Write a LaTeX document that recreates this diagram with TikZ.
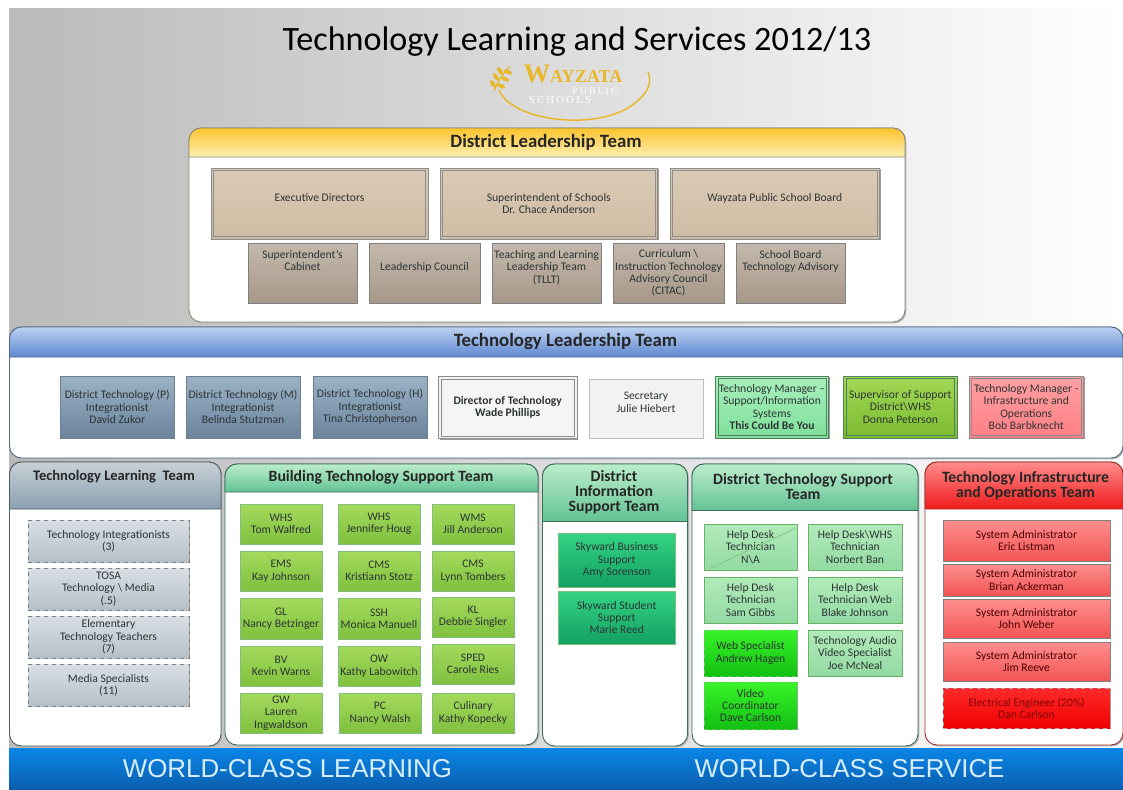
\documentclass[tikz,border=0pt]{standalone}
\usepackage{fontspec}
\setmainfont{Carlito}
\newfontfamily\arialf{Liberation Sans}
\newfontfamily\timesf{Liberation Serif}
\usetikzlibrary{shadows}
\definecolor{txt}{HTML}{2C3434}
\definecolor{tan1}{HTML}{DACAB5}\definecolor{tan2}{HTML}{CFBCA4}
\definecolor{taup1}{HTML}{C4B8AC}\definecolor{taup2}{HTML}{A69888}
\definecolor{slate1}{HTML}{9BB2C6}\definecolor{slate2}{HTML}{6B849C}\definecolor{slate3}{HTML}{6E8092}
\definecolor{mint1}{HTML}{A8EFBC}\definecolor{mint2}{HTML}{80E09A}
\definecolor{lime1}{HTML}{A2D856}\definecolor{lime2}{HTML}{7CBB30}
\definecolor{lime3}{HTML}{A4DA5C}\definecolor{lime4}{HTML}{7FC03E}
\definecolor{rose1}{HTML}{FFA0A2}\definecolor{rose2}{HTML}{FF7F84}
\definecolor{gd1}{HTML}{D8DEE4}\definecolor{gd2}{HTML}{B6C0CA}
\definecolor{sky1}{HTML}{34D484}\definecolor{sky2}{HTML}{12A062}
\definecolor{help1}{HTML}{B2EABA}\definecolor{help2}{HTML}{92DAA2}
\definecolor{bright1}{HTML}{38F428}\definecolor{bright2}{HTML}{12C012}
\definecolor{sys1}{HTML}{FF8E8E}\definecolor{sys2}{HTML}{F25454}
\definecolor{elec1}{HTML}{FF2A2A}\definecolor{elec2}{HTML}{F00000}
\definecolor{logogold}{HTML}{E8B82A}
\definecolor{bannertext}{HTML}{D6EEFF}
\definecolor{bluetop}{HTML}{0A86E8}\definecolor{bluebot}{HTML}{0A5FAE}
\definecolor{ytop}{HTML}{FBC42C}\definecolor{ybot}{HTML}{FFEFB4}\definecolor{yb}{HTML}{8C8C78}
\definecolor{btop}{HTML}{BDD2F2}\definecolor{bbot}{HTML}{5E88D0}\definecolor{bb}{HTML}{4F6A86}
\definecolor{gtop}{HTML}{C8D0D6}\definecolor{gbot}{HTML}{8AA0B0}\definecolor{gb}{HTML}{4F5F66}
\definecolor{ntop}{HTML}{BCEDCB}\definecolor{nbot}{HTML}{62C294}\definecolor{nb}{HTML}{3E6E5A}
\definecolor{rtop}{HTML}{FF8C8C}\definecolor{rbot}{HTML}{F01A1A}\definecolor{rb}{HTML}{A03030}
\definecolor{framegrey}{HTML}{8A8C8E}\definecolor{framegreen}{HTML}{4E8060}
\newcommand{\bx}[7]{%
  \pgfmathsetlengthmacro{\bw}{(#5-#3)*0.75}%
  \pgfmathsetlengthmacro{\bh}{(#6-#4)*0.75}%
  \node[#2,minimum width=\bw,minimum height=\bh] (#1) at ({(#3+#5)/2},{(#4+#6)/2}) {#7};}
% box with a second, inner frame: same arguments
\newcommand{\dbx}[7]{%
  \bx{#1}{#2}{#3}{#4}{#5}{#6}{#7}%
  \draw[frame,draw/.expanded=\framecol] ([shift={(2.4,2.4)}]#1.north west) rectangle ([shift={(-2.4,-2.4)}]#1.south east);}
\newcommand{\framecol}{framegrey}
% name, x0,y0,x1,y1(header bottom),y2(panel bottom), top colour, bottom colour, border
\newcommand{\panel}[9]{%
  \bx{#1}{panelbody,draw=#9}{#2}{#3}{#4}{#6}{}%
  \shade[top color=#7,bottom color=#8] (#2,#5) [rounded corners=9pt] -- (#2,#3) -- (#4,#3) [sharp corners] -- (#4,#5) -- cycle;
  \draw[draw=#9,line width=.7pt] (#2,#5) [rounded corners=9pt] -- (#2,#3) -- (#4,#3) [sharp corners] -- (#4,#5) -- cycle;}
\newcommand{\grain}[3]{\fill[logogold,rotate around={#3:(#1,#2)}] (#1,#2) ellipse (4.6 and 2);}
\tikzset{
  base/.style={rectangle,inner sep=0pt,outer sep=0pt,align=center,text=txt,
    font=\fontsize{8.7}{9.25}\selectfont,line width=.6pt,
    general shadow={fill=black!38,shadow xshift=1.1pt,shadow yshift=-1.1pt}},
  frame/.style={line width=.5pt},
  panelbody/.style={rectangle,inner sep=0pt,outer sep=0pt,rounded corners=9pt,fill=white,line width=.7pt,
    general shadow={fill=black!30,shadow xshift=1pt,shadow yshift=-1pt}},
  hd/.style={align=center,inner sep=0pt,text=black!85,font=\bfseries\fontsize{11.8}{11.25}\selectfont},
  hdb/.style={hd,font=\bfseries\fontsize{14.1}{15}\selectfont},
  bigbox/.style={base,draw=framegrey,top color=tan1,bottom color=tan2},
  smallbox/.style={base,draw=black!50,top color=taup1,bottom color=taup2},
  slatebox/.style={base,draw=slate3,top color=slate1,bottom color=slate2},
  dirbox/.style={base,draw=framegrey,fill=black!4,font=\bfseries\fontsize{8.7}{9.25}\selectfont},
  secbox/.style={base,draw=black!25,fill=black!5},
  mgrgreen/.style={base,draw=framegreen,top color=mint1,bottom color=mint2},
  supgreen/.style={base,draw=framegreen,top color=lime1,bottom color=lime2},
  mgrred/.style={base,draw=framegrey,top color=rose1,bottom color=rose2},
  greydash/.style={base,draw=black!50,dashed,top color=gd1,bottom color=gd2},
  limebox/.style={base,draw=black!50!green!50,top color=lime3,bottom color=lime4},
  skybox/.style={base,draw=black!50!green!50,top color=sky1,bottom color=sky2},
  helpbox/.style={base,draw=black!50!green!60,top color=help1,bottom color=help2},
  brightbox/.style={base,draw=black!35!green!60,dashed,top color=bright1,bottom color=bright2},
  sysbox/.style={base,draw=black!50,top color=sys1,bottom color=sys2,text=red!30!black},
  elecbox/.style={base,draw=black!35,dashed,top color=elec1,bottom color=elec2,text=red!50!black},
  banner/.style={inner sep=0pt,text=bannertext,font=\arialf\fontsize{19.4}{22}\selectfont},
}
\begin{document}
\begin{tikzpicture}[x=0.75pt,y=-0.75pt]
\useasboundingbox (0,0) rectangle (1123,789);
\fill[white] (0,0) rectangle (1123,789);
\shade[left color=black!27,right color=white] (9,8) rectangle (1123,748);
% title
\node[inner sep=0pt,text=black,font=\fontsize{25.6}{30}\selectfont] (title) at (577,42) {Technology Learning and Services 2012/13};
% logo (a drawing)
\draw[logogold,line width=1.1pt] (499,90) .. controls (512,122) and (600,132) .. (635,103) .. controls (649,92) and (652,82) .. (648,72);
\draw[logogold,line width=.9pt] (494,91) .. controls (497,82) and (503,74) .. (510,66);
\grain{493}{84}{-55}\grain{496}{77}{-55}\grain{500}{71}{-55}
\grain{501}{86}{-25}\grain{505}{79}{-25}\grain{508}{72}{-25}
\node[inner sep=0pt,text=logogold,font=\timesf\bfseries\fontsize{11}{12}\selectfont] (logow) at (573,74) {\fontsize{20}{20}\selectfont W\fontsize{13.6}{14}\selectfont AYZATA};
\node[inner sep=0pt,text=white,font=\timesf\fontsize{7.4}{8}\selectfont] (logop) at (595,91) {P\kern1.5pt U\kern1.5pt B\kern1.5pt L\kern1.5pt I\kern1.5pt C};
\node[inner sep=0pt,text=white,font=\timesf\fontsize{8}{9}\selectfont] (logos) at (560,100.5) {S\kern1.7pt C\kern1.7pt H\kern1.7pt O\kern1.7pt O\kern1.7pt L\kern1.7pt S};
% District Leadership Team
\panel{pdl}{189}{128}{905}{157}{322}{ytop}{ybot}{yb}
\node[hdb] (hdl) at (546,142) {District Leadership Team};
\dbx{d1}{bigbox}{211}{168}{428}{239}{Executive Directors\\~}
\dbx{d2}{bigbox}{440}{168}{657.5}{239}{Superintendent of Schools\\Dr. Chace Anderson}
\dbx{d3}{bigbox}{670}{168}{879.5}{239}{Wayzata Public School Board\\~}
\bx{s1}{smallbox}{248}{243}{357}{303}{Superintendent's\\Cabinet\\~\\~}
\bx{s2}{smallbox}{369}{243}{480}{303}{Leadership Council\\~}
\bx{s3}{smallbox}{492}{243}{601}{303}{Teaching and Learning\\Leadership Team\\(TLLT)\\~}
\bx{s4}{smallbox}{613}{243}{724}{303}{Curriculum \textbackslash\\Instruction Technology\\Advisory Council\\(CITAC)}
\bx{s5}{smallbox}{736}{243}{845}{303}{School Board\\Technology Advisory\\~\\~}
% Technology Leadership Team
\panel{ptl}{9.5}{327}{1123}{357}{458}{btop}{bbot}{bb}
\node[hdb] (htl) at (565.5,341) {Technology Leadership Team};
\bx{t1}{slatebox}{60.5}{376}{174}{438}{District Technology (P)\\Integrationist\\David Zukor}
\bx{t2}{slatebox}{186}{376}{300}{438}{District Technology (M)\\Integrationist\\Belinda Stutzman}
\bx{t3}{slatebox}{313}{376}{427}{438}{District Technology (H)\\Integrationist\\Tina Christopherson}
\dbx{t4}{dirbox}{438.5}{376.5}{577}{438.5}{Director of Technology\\Wade Phillips}
\bx{t5}{secbox}{589}{379}{703}{438}{Secretary\\Julie Hiebert\\~}
\renewcommand{\framecol}{framegreen}
\dbx{t6}{mgrgreen}{715.5}{376}{828.5}{438}{Technology Manager --\\Support/Information\\Systems\\\textbf{This Could Be You}}
\dbx{t7}{supgreen}{843.7}{376}{957}{438}{Supervisor of Support\\District\textbackslash WHS\\Donna Peterson}
\renewcommand{\framecol}{framegrey}
\dbx{t8}{mgrred}{969}{376}{1083.5}{438}{Technology Manager -\\Infrastructure and\\Operations\\Bob Barbknecht}
% Technology Learning Team
\panel{pl}{9.5}{462}{221}{509}{746}{gtop}{gbot}{gb}
\node[hd,font=\bfseries\fontsize{10.9}{11.25}\selectfont] (hl) at (114,477) {Technology Learning\ \ Team};
\bx{l1}{greydash}{28}{520}{189}{562}{Technology Integrationists\\(3)}
\bx{l2}{greydash}{28}{568}{189}{610}{TOSA\\Technology \textbackslash\ Media\\(.5)}
\bx{l3}{greydash}{28}{616}{189}{658}{Elementary\\Technology Teachers\\(7)}
\bx{l4}{greydash}{28}{664}{189}{706}{Media Specialists\\(11)}
% Building Technology Support Team
\panel{pb}{225}{464}{538}{492}{745}{ntop}{nbot}{nb}
\node[hd] (hb) at (381,477) {Building Technology Support Team};
\bx{b11}{limebox}{240}{504}{322}{544}{WHS\\Tom Walfred}
\bx{b12}{limebox}{338}{504}{420}{544}{WHS\\Jennifer Houg}
\bx{b13}{limebox}{432}{504}{514}{544}{WMS\\Jill Anderson}
\bx{b21}{limebox}{240}{551}{322}{591}{EMS\\Kay Johnson}
\bx{b22}{limebox}{338}{551}{420}{591}{CMS\\Kristiann Stotz}
\bx{b23}{limebox}{432}{551}{514}{591}{CMS\\Lynn Tombers}
\bx{b31}{limebox}{240}{598}{322}{639}{GL\\Nancy Betzinger}
\bx{b32}{limebox}{338}{598}{420}{639}{SSH\\Monica Manuell}
\bx{b33}{limebox}{432}{597}{514}{637}{KL\\Debbie Singler}
\bx{b41}{limebox}{240}{646}{322}{686}{BV\\Kevin Warns}
\bx{b42}{limebox}{338}{646}{420}{686}{OW\\Kathy Labowitch}
\bx{b43}{limebox}{432}{644}{514}{684}{SPED\\Carole Ries}
\bx{b51}{limebox}{240}{693}{322}{733}{GW\\Lauren\\Ingwaldson}
\bx{b52}{limebox}{339}{693}{421}{733}{PC\\Nancy Walsh}
\bx{b53}{limebox}{432}{693}{514}{733}{Culinary\\Kathy Kopecky}
% District Information Support Team
\panel{pi}{542.5}{464}{687.5}{521.5}{746}{ntop}{nbot}{nb}
\node[hd] (hi) at (614,492) {District\\Information\\Support Team};
\bx{i1}{skybox}{558.5}{533}{675}{587}{Skyward Business\\Support\\Amy Sorenson}
\bx{i2}{skybox}{558.5}{591}{675}{644}{Skyward Student\\Support\\Marie Reed}
% District Technology Support Team
\panel{pd}{692}{464}{918}{510.5}{746}{ntop}{nbot}{nb}
\node[hd] (hd) at (803,486.5) {District Technology Support\\Team};
\bx{h1}{helpbox}{704}{524}{797}{570}{Help Desk\\Technician\\N\textbackslash A}
\draw[draw=black!45!green!50,line width=.6pt] ([shift={(7,-2)}]h1.south west) -- ([shift={(-1,4)}]h1.north east);
\bx{h2}{helpbox}{808}{524}{902}{570}{Help Desk\textbackslash WHS\\Technician\\Norbert Ban}
\bx{h3}{helpbox}{704}{577}{797}{623}{Help Desk\\Technician\\Sam Gibbs}
\bx{h4}{helpbox}{808}{577}{902}{623}{Help Desk\\Technician Web\\Blake Johnson}
\bx{h5}{brightbox}{704}{630}{797}{676}{Web Specialist\\Andrew Hagen}
\bx{h6}{helpbox}{808}{630}{902}{676}{Technology Audio\\Video Specialist\\Joe McNeal}
\bx{h7}{brightbox}{704}{682}{797}{729}{Video\\Coordinator\\Dave Carlson}
% Technology Infrastructure and Operations Team
\panel{po}{925}{462}{1123}{509}{745}{rtop}{rbot}{rb}
\node[hd] (ho) at (1025.5,485.5) {Technology Infrastructure\\and Operations Team};
\bx{o1}{sysbox}{943}{520}{1110}{561}{System Administrator\\Eric Listman}
\bx{o2}{sysbox}{943}{564}{1110}{596}{System Administrator\\Brian Ackerman}
\bx{o3}{sysbox}{943}{599}{1110}{638}{System Administrator\\John Weber}
\bx{o4}{sysbox}{943}{642}{1110}{681}{System Administrator\\Jim Reeve}
\bx{o5}{elecbox}{943}{688}{1110}{728}{Electrical Engineer (20\%)\\Dan Carlson}
% Banner
\shade[top color=bluetop,bottom color=bluebot] (9,748) rectangle (1123,789);
\node[banner] (w1) at (287.5,769) {WORLD-CLASS LEARNING};
\node[banner] (w2) at (849.5,769) {WORLD-CLASS SERVICE};
\end{tikzpicture}
\end{document}
